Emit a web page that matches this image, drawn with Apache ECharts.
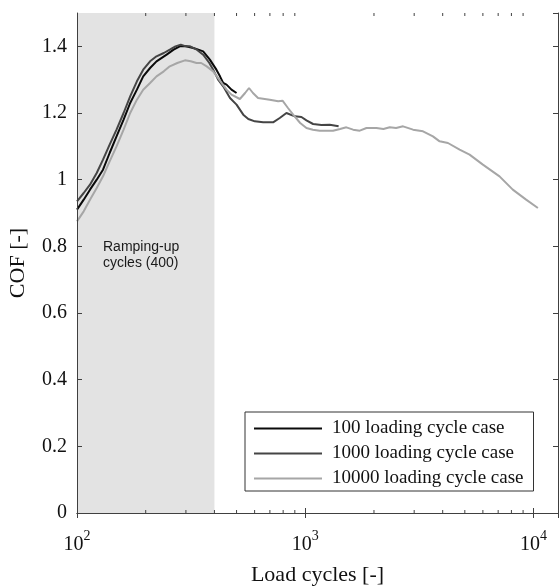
<!DOCTYPE html>
<html>
<head>
<meta charset="utf-8">
<script src="https://cdn.jsdelivr.net/npm/echarts@6/dist/echarts.min.js"></script>
<style>
  html, body { margin: 0; padding: 0; background: #fff; }
  #chart { width: 559px; height: 588px; }
</style>
</head>
<body>
<div id="chart"></div>
<script>
'use strict';
// load cycles (x) and friction coefficient (y) per case
var cycles100 = [100, 107, 114, 122, 130, 139, 149, 160, 171, 183, 195, 209, 223, 247, 265,
	282, 300, 323, 340, 357, 382, 408, 423, 437, 452, 475, 500];
var cof100 = [0.91, 0.94, 0.97, 1.00, 1.03, 1.08, 1.13, 1.18, 1.23, 1.27, 1.31, 1.335, 1.355, 1.375, 1.39,
	1.40, 1.40, 1.395, 1.39, 1.385, 1.36, 1.33, 1.31, 1.29, 1.285, 1.27, 1.26];

var cycles1000 = [100, 107, 114, 122, 130, 139, 149, 160, 171, 183, 195, 209, 223, 240, 255,
	270, 285, 300, 313, 335, 357, 380, 395, 415, 437, 468, 500, 535, 563, 601,
	654, 723, 773, 827, 900, 962, 1012, 1082, 1177, 1280, 1400];
var cof1000 = [0.935, 0.96, 0.985, 1.02, 1.06, 1.105, 1.15, 1.20, 1.25, 1.295, 1.33, 1.355, 1.37, 1.38, 1.39,
	1.40, 1.405, 1.40, 1.40, 1.39, 1.375, 1.35, 1.33, 1.30, 1.28, 1.245, 1.225, 1.195, 1.182, 1.175,
	1.172, 1.172, 1.185, 1.20, 1.19, 1.188, 1.178, 1.167, 1.164, 1.165, 1.16];

var cycles10000 = [100, 107, 114, 122, 130, 139, 149, 160, 171, 183, 195, 209, 223, 240, 255,
	275, 297, 315, 334, 350, 370, 395, 420, 452, 475, 517, 545, 567, 590, 621,
	699, 761, 795, 840, 885, 950, 1012, 1080, 1157, 1240, 1323, 1420, 1514, 1620, 1733,
	1854, 2050, 2200, 2345, 2500, 2682, 2966, 3280, 3625, 3878, 4218, 4745, 5246, 5999, 7096,
	8111, 9279, 10450];
var cof10000 = [0.875, 0.905, 0.94, 0.975, 1.01, 1.055, 1.10, 1.15, 1.20, 1.24, 1.27, 1.29, 1.31, 1.325, 1.34,
	1.35, 1.358, 1.355, 1.35, 1.35, 1.34, 1.325, 1.30, 1.27, 1.255, 1.242, 1.26, 1.275, 1.26, 1.245,
	1.24, 1.235, 1.237, 1.215, 1.195, 1.17, 1.155, 1.15, 1.147, 1.147, 1.147, 1.152, 1.157, 1.15, 1.147,
	1.155, 1.155, 1.152, 1.157, 1.155, 1.16, 1.15, 1.145, 1.13, 1.115, 1.11, 1.09, 1.075, 1.045, 1.01,
	0.97, 0.94, 0.915];

var seriesNames = ['100 loading cycle case', '1000 loading cycle case', '10000 loading cycle case'];
var rampRange = [100, 400];
var minorTicks = [200, 300, 400, 500, 600, 700, 800, 900, 2000, 3000, 4000, 5000, 6000, 7000, 8000, 9000];

function zip(xs, ys) {
	var out = [];
	for (var i = 0; i < xs.length; i++) out.push([xs[i], ys[i]]);
	return out;
}

var serif = '"Liberation Serif", "Times New Roman", serif';
var axisColor = '#404040';

var chart = echarts.init(document.getElementById('chart'), null, { renderer: 'canvas' });

var hiddenAxis = {
	axisLine: { show: true, lineStyle: { color: axisColor, width: 1 } },
	axisTick: { show: true, inside: true, length: 5, lineStyle: { color: axisColor } },
	axisLabel: { show: false },
	splitLine: { show: false },
	z: 5
};

chart.setOption({
	animation: false,
	grid: { left: 77, right: 1, top: 13, bottom: 75, outerBoundsMode: 'none', containLabel: false },
	xAxis: [{
		type: 'log', logBase: 10, min: 100, max: 12800, position: 'bottom',
		name: 'Load cycles [-]', nameLocation: 'middle', nameGap: 51,
		nameTextStyle: { fontFamily: serif, fontSize: 22, color: '#111' },
		axisLine: { show: true, lineStyle: { color: axisColor, width: 1 } },
		axisTick: { show: true, inside: true, length: 5, lineStyle: { color: axisColor } },
		splitLine: { show: false },
		axisLabel: {
			showMaxLabel: false, margin: 16,
			formatter: function (v) {
				return '{b|10}{s|' + Math.round(Math.log(v) / Math.LN10) + '}';
			},
			rich: {
				b: { fontFamily: serif, fontSize: 20, color: '#111', verticalAlign: 'bottom', lineHeight: 26 },
				s: { fontFamily: serif, fontSize: 14, color: '#111', verticalAlign: 'top', lineHeight: 26 }
			}
		},
		z: 5
	}, Object.assign({
		type: 'log', logBase: 10, min: 100, max: 12800, position: 'top'
	}, hiddenAxis)],
	yAxis: [{
		type: 'value', min: 0, max: 1.5, interval: 0.2, position: 'left',
		name: 'COF [-]', nameLocation: 'middle', nameGap: 48, nameRotate: 90,
		nameTextStyle: { fontFamily: serif, fontSize: 22, color: '#111' },
		axisLine: { show: true, lineStyle: { color: axisColor, width: 1 } },
		axisTick: { show: true, inside: true, length: 5, lineStyle: { color: axisColor } },
		axisLabel: { showMaxLabel: false, margin: 10, fontFamily: serif, fontSize: 20, color: '#111' },
		splitLine: { show: false },
		z: 5
	}, Object.assign({
		type: 'value', min: 0, max: 1.5, interval: 0.2, position: 'right'
	}, hiddenAxis)],
	legend: {
		data: seriesNames,
		orient: 'vertical',
		left: 245, top: 412,
		itemWidth: 68, itemHeight: 14, itemGap: 6,
		padding: [7, 10, 3, 8],
		backgroundColor: '#fff',
		borderColor: '#333', borderWidth: 1, borderRadius: 0,
		itemStyle: { opacity: 0 },
		textStyle: { fontFamily: serif, fontSize: 19, color: '#111', padding: [0, 0, 0, 5] }
	},
	graphic: [{
		type: 'text', left: 103, top: 239, z: 20,
		style: {
			text: 'Ramping-up\ncycles (400)',
			font: '14px "Liberation Sans", Arial, sans-serif',
			lineHeight: 16,
			fill: '#1a1a1a'
		}
	}],
	series: [{
		name: 'ramp', type: 'line', data: [], z: 1, silent: true,
		markArea: {
			silent: true,
			itemStyle: { color: '#e3e3e3' },
			data: [[{ xAxis: rampRange[0] }, { xAxis: rampRange[1] }]]
		}
	}, {
		name: seriesNames[0], type: 'line', symbol: 'none', z: 3,
		lineStyle: { color: '#0a0a0a', width: 2 }, itemStyle: { color: '#0a0a0a' },
		data: zip(cycles100, cof100)
	}, {
		name: seriesNames[1], type: 'line', symbol: 'none', z: 3,
		lineStyle: { color: '#454545', width: 2 }, itemStyle: { color: '#454545' },
		data: zip(cycles1000, cof1000)
	}, {
		name: seriesNames[2], type: 'line', symbol: 'none', z: 3,
		lineStyle: { color: '#a6a6a6', width: 2 }, itemStyle: { color: '#a6a6a6' },
		data: zip(cycles10000, cof10000)
	}, {
		name: 'minor', type: 'custom', z: 6, silent: true, clip: false,
		encode: { x: 0, y: 1 },
		data: minorTicks.map(function (v) { return [v, 0]; }),
		renderItem: function (params, api) {
			var x = api.value(0);
			var b = api.coord([x, 0]);
			var t = api.coord([x, 1.5]);
			var st = { stroke: axisColor, lineWidth: 1 };
			return {
				type: 'group',
				children: [
					{ type: 'line', shape: { x1: b[0], y1: b[1], x2: b[0], y2: b[1] - 3 }, style: st },
					{ type: 'line', shape: { x1: t[0], y1: t[1], x2: t[0], y2: t[1] + 3 }, style: st }
				]
			};
		}
	}]
});
</script>
</body>
</html>
